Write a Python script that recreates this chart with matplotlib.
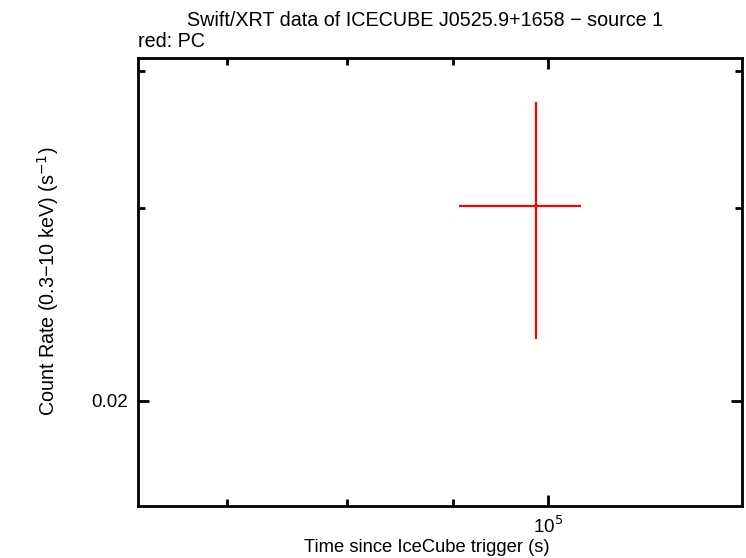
import matplotlib
matplotlib.use("Agg")
import matplotlib.pyplot as plt
from matplotlib.ticker import FixedLocator, NullFormatter, FixedFormatter

# PC mode point (time since trigger, rate, errors)
t_pc = [98680.0]
t_lo = [8150.0]
t_hi = [5050.0]
rate_pc = [0.03012]
rate_lo = [0.00734]
rate_hi = [0.00738]

x_major = [1e5]
x_minor = [7e4, 8e4, 9e4]
y_major = [0.02]
y_minor = [0.03, 0.04]

plt.rcParams['font.family'] = ['Liberation Sans', 'DejaVu Sans']

fig = plt.figure(figsize=(7.46, 5.58), dpi=100)
ax = fig.add_axes([0.185, 0.0932, 0.8096, 0.8029])

ax.errorbar(t_pc, rate_pc, xerr=[t_lo, t_hi], yerr=[rate_lo, rate_hi],
            fmt='none', ecolor='#ff0000', elinewidth=1.6, capsize=0)

ax.set_xscale('log')
ax.set_yscale('log')
ax.set_xlim(6.34e4, 1.24e5)
ax.set_ylim(0.01604, 0.04111)

ax.xaxis.set_major_locator(FixedLocator(x_major))
ax.xaxis.set_major_formatter(FixedFormatter([r'10$^5$']))
ax.xaxis.set_minor_locator(FixedLocator(x_minor))
ax.xaxis.set_minor_formatter(NullFormatter())
ax.yaxis.set_major_locator(FixedLocator(y_major))
ax.yaxis.set_major_formatter(FixedFormatter(['0.02']))
ax.yaxis.set_minor_locator(FixedLocator(y_minor))
ax.yaxis.set_minor_formatter(NullFormatter())

ax.tick_params(which='both', direction='in', top=True, right=True,
               width=2, labelsize=13.5, pad=7)
ax.tick_params(which='major', length=8)
ax.tick_params(which='minor', length=5)
for s in ax.spines.values():
    s.set_linewidth(2)

ax.set_xlabel('Time since IceCube trigger (s)', fontsize=13.2)
ax.xaxis.set_label_coords(0.478, -0.073)
ax.set_ylabel('Count Rate (0.3\u221210 keV) (s$^{-1}$)', fontsize=14.2)
ax.yaxis.set_label_coords(-0.128, 0.502)

fig.text(0.57, 0.964, 'Swift/XRT data of ICECUBE J0525.9+1658 \u2212 source 1',
         ha='center', va='center', fontsize=14.2)
fig.text(0.185, 0.925, 'red: PC', ha='left', va='center', fontsize=14.2)

fig.savefig('out.png', dpi=100)
